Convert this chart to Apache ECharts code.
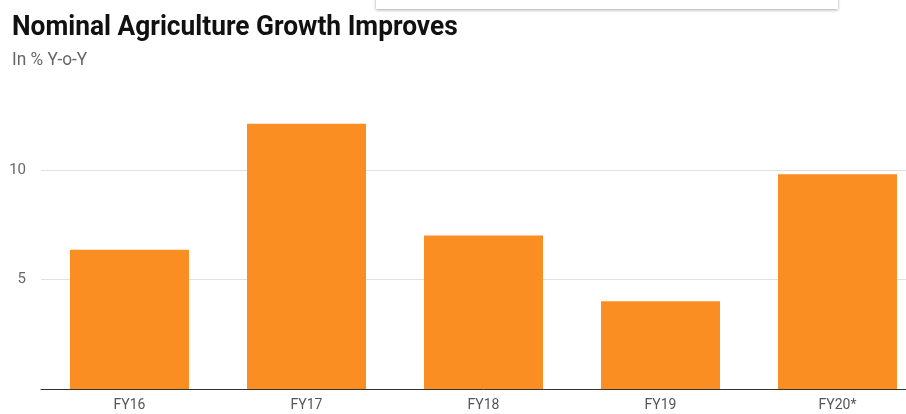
<!DOCTYPE html>
<html>
<head>
<meta charset="utf-8">
<script src="https://cdn.jsdelivr.net/npm/echarts@6/dist/echarts.min.js"></script>
<style>html,body{margin:0;padding:0;background:#fff;overflow:hidden;width:906px;height:414px;}#c{width:926px;height:414px;}</style>
</head>
<body>
<div id="c"></div>
<script>
const categories = ['FY16', 'FY17', 'FY18', 'FY19', 'FY20*'];
const growthValues = [6.35, 12.1, 7.0, 4.0, 9.8];
const yTickLabels = [5, 10];
const titleText = 'Nominal Agriculture Growth Improves';
const subtitleText = 'In % Y-o-Y';

const chart = echarts.init(document.getElementById('c'), null, {renderer: 'canvas'});
chart.setOption({
  backgroundColor: '#ffffff',
  animation: false,
  graphic: [
    {type: 'rect', shape: {x: 376, y: -12, width: 462, height: 21}, style: {fill: '#fff', shadowBlur: 3, shadowOffsetY: 1, shadowColor: 'rgba(0,0,0,0.35)'}},
    {type: 'text', x: 12, y: 14, scaleX: 0.94, style: {text: titleText, font: 'bold 28px Roboto', fill: '#111', textVerticalAlign: 'top'}},
    {type: 'text', x: 12, y: 51, scaleX: 0.96, style: {text: subtitleText, font: '18px Roboto', fill: '#666', textVerticalAlign: 'top'}}
  ],
  grid: {left: 41, right: 0, top: 104, bottom: 25, containLabel: false},
  xAxis: {
    type: 'category',
    data: categories,
    axisLine: {lineStyle: {color: '#333', width: 1}},
    axisTick: {show: false},
    axisLabel: {color: '#555', fontFamily: 'Roboto', fontSize: 14, margin: 9}
  },
  yAxis: {
    type: 'value',
    min: 0, max: 13, interval: 5,
    axisLine: {show: false},
    axisTick: {show: false},
    splitLine: {lineStyle: {color: ['#e0e0e0', '#e0e0e0', '#e0e0e0', 'rgba(0,0,0,0)'], width: 1}},
    axisLabel: {color: '#666', fontFamily: 'Roboto', fontSize: 15, margin: 15,
      formatter: v => yTickLabels.indexOf(v) >= 0 ? String(v) : ''}
  },
  series: [{
    type: 'bar',
    data: growthValues,
    barWidth: 119,
    itemStyle: {color: '#fb8e23'}
  }]
});
</script>
</body>
</html>
